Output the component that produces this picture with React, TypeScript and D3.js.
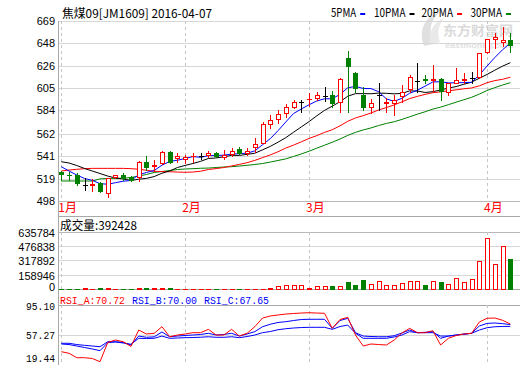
import React from "react";
import * as d3 from "d3";

const dates = [
  "01-08","01-11","01-12","01-13","01-14","01-15","01-18","01-19","01-20","01-21","01-22","01-25","01-26","01-27","01-28","01-29",
  "02-01","02-02","02-03","02-04","02-05","02-15","02-16","02-17","02-18","02-19","02-22","02-23","02-24","02-25","02-26","02-29",
  "03-01","03-02","03-03","03-04","03-07","03-08","03-09","03-10","03-11","03-14","03-15","03-16","03-17","03-18","03-21","03-22","03-23","03-24","03-25","03-28","03-29","03-30","03-31",
  "04-01","04-05","04-06","04-07",
];

const opens = [525.8,523.0,522.7,513.2,513.5,514.8,506.0,520.8,522.4,521.0,520.5,535.3,531.3,533.8,545.0,538.5,537.5,540.5,540.8,541.4,543.9,540.1,542.6,547.4,543.3,549.0,553.4,570.9,575.6,581.3,587.6,592.5,594.5,595.6,597.7,598.7,592.3,633.6,619.9,598.7,587.6,598.7,590.8,591.4,597.7,604.1,612.3,613.6,612.5,613.6,601.8,610.4,613.0,614.6,616.1,639.8,652.0,649.5,651.0];
const highs = [526.5,525.3,524.3,519.8,518.8,515.7,520.3,522.8,525.0,522.0,536.3,540.7,536.5,545.8,545.5,543.5,541.7,543.5,543.3,545.8,544.5,546.4,548.0,549.6,548.0,557.6,573.0,579.7,584.4,590.1,594.0,594.0,600.5,601.8,606.6,602.8,614.6,640.8,620.5,606.6,594.6,609.8,595.6,598.7,608.2,617.7,629.4,617.7,627.2,614.6,610.0,624.1,619.3,620.8,638.5,651.8,657.9,663.3,657.9];
const lows = [517.5,517.9,513.2,508.4,507.9,506.8,501.5,520.3,518.0,517.0,517.0,527.9,526.5,533.1,534.5,535.0,534.0,535.0,537.6,540.0,540.0,537.6,540.8,543.0,541.7,544.8,553.0,567.0,571.8,578.1,586.0,582.8,588.3,594.0,593.3,587.6,582.8,582.8,602.0,584.4,581.3,584.4,582.8,579.7,592.3,601.8,601.8,609.8,601.8,593.9,598.7,609.8,609.8,609.8,614.6,638.3,643.0,645.2,639.8];
const closes = [523.4,522.5,514.8,513.2,514.0,507.8,519.8,522.4,519.8,517.6,535.0,530.6,532.2,544.5,535.5,540.5,539.5,541.0,540.8,543.9,540.7,541.7,545.6,543.3,545.5,551.9,571.1,574.9,580.6,587.0,591.8,592.5,595.0,598.7,597.7,591.4,613.6,626.2,605.7,587.6,590.8,598.7,592.3,593.9,601.8,615.5,612.3,612.5,613.6,602.8,609.8,612.9,613.6,614.6,638.3,651.6,653.5,650.5,646.2];
const volumes = [9000,8000,9000,20000,10000,22000,22000,9000,9000,9000,20000,22000,20000,20000,22000,9000,9000,9000,9000,9000,9000,9000,9000,9000,9000,12000,14000,19000,33000,44000,44000,44000,19000,33000,33000,44000,33000,89000,55000,111000,55000,89000,44000,44000,70000,89000,89000,55000,89000,89000,55000,119000,81000,111000,311000,563000,277000,477000,341000];

const ma5 = [530.6,526.5,522.7,519.4,517.6,514.5,513.9,515.4,516.8,517.5,522.9,525.1,527.0,532.0,535.6,536.7,538.4,540.2,539.5,541.1,541.2,541.6,542.5,543.0,543.4,545.6,551.5,557.3,564.8,573.1,581.1,585.4,589.4,593.0,595.1,595.1,599.3,605.5,606.9,604.9,604.8,601.8,595.0,592.7,595.5,600.4,603.2,607.2,611.1,611.3,610.2,610.3,610.5,610.7,617.8,626.2,634.3,641.7,648.0];
const ma10 = [535.3,534.1,531.7,528.9,526.5,524.1,521.7,519.8,518.9,517.5,518.7,519.5,521.2,524.4,526.5,529.8,531.8,533.6,535.7,538.4,538.9,540.0,541.4,541.3,542.3,543.4,546.6,549.9,553.9,558.2,563.3,568.4,573.4,578.9,584.1,588.1,592.3,597.5,600.0,600.0,599.9,600.5,600.3,599.8,600.2,602.6,602.5,601.1,601.9,603.4,605.3,606.7,608.9,610.9,614.6,618.2,622.3,626.1,629.4];
const ma20 = [526.5,527.4,528.1,528.7,529.0,529.0,529.0,529.0,529.0,528.7,528.2,527.2,526.2,526.0,525.8,525.5,525.3,525.5,526.3,527.9,528.8,529.8,531.3,532.8,534.4,536.6,539.2,541.8,544.8,548.3,551.1,554.2,557.4,560.1,563.2,565.7,569.4,573.7,576.9,579.1,581.6,584.5,586.8,589.3,592.2,595.3,597.4,599.3,600.9,601.7,602.6,603.6,604.6,605.4,607.4,610.4,612.4,613.6,615.6];
const ma30 = [517.0,517.0,517.0,517.0,517.0,519.0,519.4,519.6,519.6,520.3,521.7,523.2,525.1,526.0,527.0,527.9,528.4,528.7,529.1,529.3,529.8,530.3,530.6,531.2,531.9,532.7,533.6,535.0,536.5,538.0,540.3,542.7,545.3,548.2,551.0,553.8,556.9,560.3,563.2,565.5,567.4,569.7,571.7,573.3,575.5,578.0,580.5,582.8,585.3,587.2,589.5,591.9,594.2,596.5,599.6,603.0,605.7,608.2,610.4];

const rsiA = [35.2,33.2,27.5,27.5,26.5,22.4,47.0,50.2,48.0,41.9,63.0,57.9,58.8,67.3,54.4,56.6,57.9,59.6,59.6,63.9,56.6,56.6,63.9,55.3,58.8,67.3,78.4,81.0,82.3,83.5,84.2,84.8,85.2,84.8,84.5,65.2,76.5,79.3,56.6,42.5,45.1,44.4,43.8,50.2,59.2,65.2,59.6,59.6,62.1,43.8,52.4,56.0,57.9,58.8,73.3,78.1,78.4,75.5,70.72];
const rsiB = [46.0,46.0,44.4,43.4,42.5,41.6,48.0,48.0,47.0,43.8,55.3,53.7,54.3,60.5,54.4,55.3,56.0,56.6,57.3,58.8,56.6,57.3,58.8,55.3,57.9,60.9,67.3,70.4,72.7,73.7,75.2,76.5,76.8,76.8,76.8,65.2,75.2,78.0,59.6,55.3,54.7,54.4,54.4,55.7,59.2,63.0,59.6,60.1,60.9,52.4,55.3,56.6,57.5,58.8,68.2,71.5,72.0,71.2,70.0];
const rsiC = [45.1,44.4,42.5,40.6,38.7,36.5,46.8,47.7,46.4,44.7,52.4,52.1,52.4,55.3,52.4,52.8,53.2,53.4,53.8,54.4,53.7,53.7,54.4,53.2,54.7,56.6,59.6,61.1,63.4,64.7,65.6,66.2,66.5,66.5,66.5,63.9,67.5,69.4,58.8,52.4,52.4,52.4,52.4,54.1,56.6,60.9,59.6,59.6,59.6,55.3,55.3,56.6,57.9,58.8,63.0,66.0,67.2,67.6,67.65];

const priceTicks = [669, 648, 626, 605, 584, 562, 541, 519, 498];
const volTicks = [635784, 476838, 317892, 158946, 0];
const rsiTicks = [95.10, 57.27, 19.44];

const title = "焦煤09[JM1609] 2016-04-07";
const volTitle = "成交量:392428";
const legend = [
  { name: "5PMA", color: "#0000ff" },
  { name: "10PMA", color: "#000000" },
  { name: "20PMA", color: "#ff0000" },
  { name: "30PMA", color: "#008000" },
];
const rsiLegend = [
  { name: "RSI_A:70.72", color: "#ff0000" },
  { name: "RSI_B:70.00", color: "#0000ff" },
  { name: "RSI_C:67.65", color: "#0000ff" },
];

const RED = "#ff0000";
const GREEN = "#008000";
const GRID = "#d7d7d7";
const FRAME = "#a8a8a8";
const MONO = "'Liberation Mono', 'DejaVu Sans Mono', monospace";
const CJK = "'Noto Sans CJK SC', 'Liberation Sans', sans-serif";
const SANS = "'Liberation Sans', Arial, sans-serif";

export default function App() {
  const W = 520, H = 365;
  const left = 58, right = 520;
  const n = dates.length;
  const x = d3.scaleLinear().domain([0, n - 1]).range([61.3, 510.3]);
  const yP = d3.scaleLinear().domain([498, 669]).range([201, 21]);
  const yV = d3.scaleLinear().domain([0, 635784]).range([289, 231.7]);
  const yR = d3.scaleLinear().domain([19.44, 95.10]).range([364, 305]);

  const monthIdx: { i: number; label: string }[] = [];
  dates.forEach((d, i) => {
    const m = d.slice(0, 2);
    if (i === 0 || dates[i - 1].slice(0, 2) !== m) monthIdx.push({ i, label: `${parseInt(m, 10)}月` });
  });

  const line = (arr: number[], ys: d3.ScaleLinear<number, number>) =>
    d3.line<number>().x((_, i) => x(i)).y((v) => ys(v))(arr) || "";

  const cx = (i: number) => Math.round(x(i));

  return (
    <svg width={W} height={H} style={{ position: "absolute", left: 0, top: 0, background: "#fff" }}
      xmlns="http://www.w3.org/2000/svg">
      <rect x={0} y={0} width={W} height={H} fill="#fff" />
      {/* watermark */}
      <g opacity={0.55}>
        <path d="M424,46 C418,32 424,16 440,12 C430,20 428,32 434,44 Z" fill="#c8c8c8" />
        <path d="M430,44 C428,32 434,22 444,18 C438,26 437,34 440,42 Z" fill="#d8d8d8" />
        <text x={443} y={35} fontFamily={CJK} fontWeight={700} fontSize={13} fill="#bdbdbd" textLength={70} lengthAdjust="spacingAndGlyphs">东方财富网</text>
        <text x={445} y={48} fontFamily={SANS} fontWeight={700} fontSize={8} fill="#c8c8c8" textLength={68} lengthAdjust="spacingAndGlyphs">eastmoney.com</text>
      </g>

      {/* price panel grid */}
      {priceTicks.map((t) => (
        <line key={"pg" + t} x1={left} x2={right} y1={Math.round(yP(t)) + 0.5} y2={Math.round(yP(t)) + 0.5}
          stroke={t === 498 ? "#b8b8b8" : GRID} shapeRendering="crispEdges" />
      ))}
      {/* volume panel grid */}
      {volTicks.map((t) => (
        <line key={"vg" + t} x1={left} x2={right} y1={Math.round(yV(t)) + 0.5} y2={Math.round(yV(t)) + 0.5}
          stroke={t === 0 ? FRAME : t === volTicks[0] ? "#b8b8b8" : GRID} shapeRendering="crispEdges" />
      ))}
      {/* rsi grid */}
      <line x1={left} x2={right} y1={Math.round(yR(rsiTicks[1])) + 0.5} y2={Math.round(yR(rsiTicks[1])) + 0.5} stroke={GRID} shapeRendering="crispEdges" />
      <line x1={left} x2={right} y1={305.5} y2={305.5} stroke={FRAME} shapeRendering="crispEdges" />
      <line x1={left} x2={right} y1={216.5} y2={216.5} stroke={FRAME} shapeRendering="crispEdges" />

      {/* month dashed lines */}
      {monthIdx.map((m) => (
        <g key={"ml" + m.i}>
          {[[21, 201], [232, 289], [305, 365]].map(([a, b], k) => (
            <line key={k} x1={cx(m.i) + 0.5} x2={cx(m.i) + 0.5} y1={a} y2={b} stroke="#c4c4c4"
              strokeDasharray="3,3" shapeRendering="crispEdges" />
          ))}
          <text x={x(m.i) - 3} y={212} fontFamily={CJK} fontSize={12} fill={RED}>{m.label}</text>
        </g>
      ))}

      {/* left axis */}
      <line x1={left + 0.5} x2={left + 0.5} y1={21} y2={H} stroke={FRAME} shapeRendering="crispEdges" />

      {/* axis labels */}
      {priceTicks.map((t) => (
        <text key={"pl" + t} x={55} y={yP(t)} textAnchor="end" dominantBaseline="central"
          fontFamily={SANS} fontSize={11} fill="#000">{t}</text>
      ))}
      {volTicks.map((t, k) => (
        <text key={"vl" + t} x={55} y={k === volTicks.length - 1 ? 286.5 : yV(t) + 1} textAnchor="end" dominantBaseline="central"
          fontFamily={SANS} fontSize={11} fill="#000">{t}</text>
      ))}
      {rsiTicks.map((t, k) => (
        <text key={"rl" + t} x={55} y={k === 0 ? 306.5 : k === 2 ? 359 : yR(t) + 1} textAnchor="end" dominantBaseline="central"
          fontFamily={MONO} fontSize={11} fill="#000" textLength={29} lengthAdjust="spacingAndGlyphs">{t.toFixed(2)}</text>
      ))}

      {/* titles */}
      <text x={62} y={18} fontFamily={CJK} fontSize={12} fill="#000" textLength={150} lengthAdjust="spacingAndGlyphs">{title}</text>
      {legend.map((l, k) => {
        const xs = [331, 374, 421.5, 470.5][k];
        const tw = l.name.length * 6.3;
        return (
          <g key={l.name}>
            <text x={xs} y={17} fontFamily={CJK} fontSize={12} fill="#000" textLength={tw} lengthAdjust="spacingAndGlyphs">{l.name}</text>
            <rect x={xs + tw + 4} y={13} width={5} height={2} fill={l.color} />
          </g>
        );
      })}
      <text x={60} y={230} fontFamily={CJK} fontSize={12} fill="#000" textLength={77} lengthAdjust="spacingAndGlyphs">{volTitle}</text>
      {rsiLegend.map((l, k) => (
        <text key={l.name} x={60 + k * 72} y={303.5} fontFamily={MONO} fontSize={11} fill={l.color}
          textLength={65} lengthAdjust="spacingAndGlyphs">{l.name}</text>
      ))}

      {/* moving averages */}
      <path d={line(ma30, yP)} fill="none" stroke={GREEN} strokeWidth={1} />
      <path d={line(ma20, yP)} fill="none" stroke={RED} strokeWidth={1} />
      <path d={line(ma10, yP)} fill="none" stroke="#000" strokeWidth={1} />
      <path d={line(ma5, yP)} fill="none" stroke="#0000ff" strokeWidth={1} />

      {/* candles */}
      {dates.map((d, i) => {
        const o = opens[i], c = closes[i], h = highs[i], l = lows[i];
        const color = c > o ? RED : c < o ? GREEN : "#000";
        const xc = cx(i);
        const yT = Math.round(yP(Math.max(o, c)));
        const yB = Math.round(yP(Math.min(o, c)));
        const bodyH = yB - yT;
        return (
          <g key={"c" + d} shapeRendering="crispEdges">
            <line x1={xc + 0.5} x2={xc + 0.5} y1={Math.round(yP(h))} y2={Math.round(yP(l)) + 1} stroke={color} />
            {bodyH < 2 ? (
              <rect x={xc - 2} y={yT} width={5} height={Math.max(1, bodyH + 1)} fill={color} />
            ) : c > o ? (
              <rect x={xc - 1.5} y={yT + 0.5} width={4} height={bodyH} fill="#fff" stroke={color} />
            ) : (
              <rect x={xc - 2} y={yT} width={5} height={bodyH + 1} fill={color} />
            )}
          </g>
        );
      })}

      {/* volume */}
      {dates.map((d, i) => {
        const up = closes[i] >= opens[i];
        const xc = cx(i);
        const yt = Math.round(yV(volumes[i]));
        const h = Math.max(1, 289 - yt);
        return up ? (
          h > 2 ? <rect key={"v" + d} x={xc - 1.5} y={289 - h + 0.5} width={4} height={h} fill="#fff" stroke={RED} shapeRendering="crispEdges" />
            : <rect key={"v" + d} x={xc - 2} y={289 - h + 1} width={5} height={h} fill={RED} shapeRendering="crispEdges" />
        ) : (
          <rect key={"v" + d} x={xc - 2} y={289 - h + 1} width={5} height={h} fill={GREEN} shapeRendering="crispEdges" />
        );
      })}

      {/* RSI */}
      <path d={line(rsiC, yR)} fill="none" stroke="#0000ff" strokeWidth={1} />
      <path d={line(rsiB, yR)} fill="none" stroke="#0000ff" strokeWidth={1} />
      <path d={line(rsiA, yR)} fill="none" stroke={RED} strokeWidth={1} />
    </svg>
  );
}
